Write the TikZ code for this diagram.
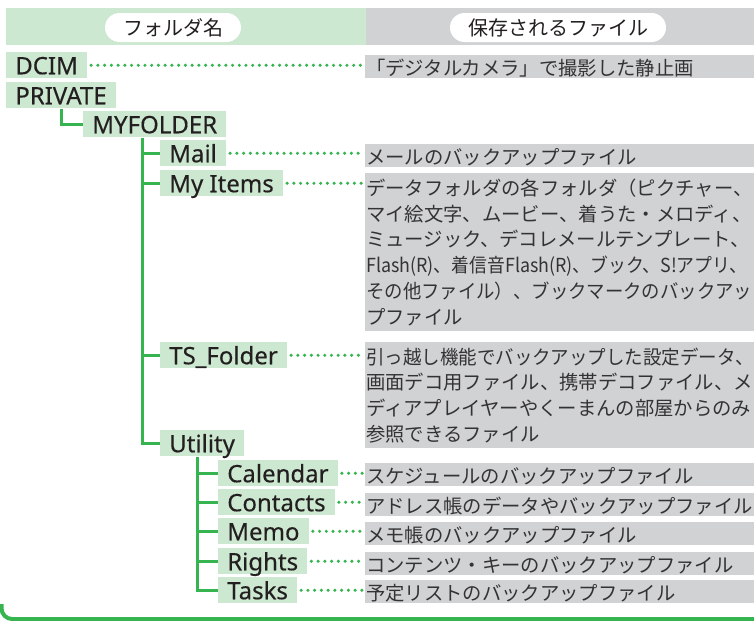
\documentclass[tikz,border=0pt]{standalone}
\usepackage{fontspec}
\setmainfont{Noto Sans}
\newfontfamily\labelfont{Noto Sans}[FakeBold=0.3]
\newfontfamily\jpfont{Noto Sans CJK JP}
\definecolor{dirGreen}{HTML}{CCE8D0}
\definecolor{dirGray}{HTML}{D1D2D4}
\definecolor{dirLine}{HTML}{36B450}
\definecolor{dirText}{HTML}{231F20}
\definecolor{dirNote}{HTML}{333333}
\usepackage{tikz}
\usetikzlibrary{decorations.markings}
\newcommand{\fitline}[2]{\resizebox{#1}{\height}{#2}}

\begin{document}
\begin{tikzpicture}[x=0.75pt, y=-0.75pt,
	folder/.style={fill=dirGreen, anchor=north west, inner xsep=6.75pt, inner ysep=0pt,
		text height=16.5pt, text depth=3pt, text=dirText, font=\labelfont\fontsize{18}{20}\selectfont},
	filebox/.style={fill=dirGray, anchor=north west, text width=290pt, align=left,
		inner xsep=0.75pt, inner ysep=0pt, text=dirNote,
		font=\jpfont\fontsize{14.5}{19.3}\selectfont},
	oneline/.style={text height=15pt, text depth=2.25pt},
	pill/.style={fill=white, rounded corners=10.9pt, minimum height=21.75pt, inner sep=0pt,
		text=dirText, font=\jpfont\fontsize{15}{15}\selectfont},
	tree/.style={dirLine, line width=2.25pt},
	dots/.style={decorate, decoration={markings,
		mark=between positions 0 and 1 step 5.05pt with {\fill[dirLine] (0,0) circle (1.3pt);}}}]
	
	\useasboundingbox (0,0) rectangle (754,621);
	
	% Cabecera
	\fill[dirGreen] (6,8) rectangle (366,45);
	\fill[dirGray] (366,8) rectangle (754,45);
	\node[pill, minimum width=102pt] (hfolder) at (173,27.5) {フォルダ名};
	\node[pill, minimum width=162pt] (hfile) at (558,27.5) {保存されるファイル};
	
	% Carpetas
	\node[folder] (dcim) at (6,52) {DCIM};
	\node[folder] (private) at (6,82) {PRIVATE};
	\node[folder] (myfolder) at (83,111) {MYFOLDER};
	\node[folder] (mail) at (160,140) {Mail};
	\node[folder] (myitems) at (160,170) {My Items\hspace{3pt}};
	\node[folder] (tsfolder) at (160,342) {TS\_Folder};
	\node[folder] (utility) at (160,430) {Utility};
	
	% Descripciones
	\node[filebox, oneline] (dcim-f) at (365,55) {「デジタルカメラ」で撮影した静止画};
	\node[filebox, oneline] (mail-f) at (365,144) {メールのバックアップファイル};
	\node[filebox, minimum height=118.5pt] (myitems-f) at (365,173)
		{データフォルダの各フォルダ（ピクチャー、\\マイ絵文字、ムービー、着うた・メロディ、\\ミュージック、デコレメールテンプレート、\\\fitline{285.75pt}{Flash(R)、着信音Flash(R)、ブック、S!アプリ、}\\\fitline{289.5pt}{その他ファイル）、ブックマークのバックアッ}\\プファイル};
	\node[filebox, minimum height=79.5pt] (tsfolder-f) at (365,342)
		{\fitline{290.5pt}{引っ越し機能でバックアップした設定データ、}\\画面デコ用ファイル、携帯デコファイル、メ\\ディアプレイヤーやくーまんの部屋からのみ\\参照できるファイル};
	
	% Ramas
	\draw[tree] ([shift={(55,0)}]private.south west) |- (myfolder.west);
	\coordinate (mtrunk) at ([shift={(59,0)}]myfolder.south west);
	\draw[tree] (mtrunk) |- (utility.west);
	\foreach \c in {mail,myitems,tsfolder}
		\draw[tree] (mtrunk |- \c.west) -- (\c.west);
	\coordinate (utrunk) at ([shift={(37,0)}]utility.south west);
	
	% Lineas punteadas
	\foreach \c in {dcim,mail,myitems,tsfolder}
		\path[dots] ([xshift=3pt]\c.east) -- ([xshift=-1.5pt]\c.east -| \c-f.west);
	
	% Subcarpetas de Utility
	\foreach \n/\lab/\y/\fy/\desc in {
		calendar/Calendar/460/463/スケジュールのバックアップファイル,
		contacts/Contacts/489/493/アドレス帳のデータやバックアップファイル,
		memo/Memo/518/522/メモ帳のバックアップファイル,
		rights/Rights/548/552/コンテンツ・キーのバックアップファイル,
		tasks/Tasks/577/580/予定リストのバックアップファイル}{
		\node[folder] (\n) at (218,\y) {\lab};
		\node[filebox, oneline] (\n-f) at (365,\fy) {\desc};
		\path[dots] ([xshift=3pt]\n.east) -- ([xshift=-1.5pt]\n.east -| \n-f.west);
	}
	\draw[tree] (utrunk) |- (tasks.west);
	\foreach \c in {calendar,contacts,memo,rights}
		\draw[tree] (utrunk |- \c.west) -- (\c.west);
	
	% Borde inferior
	\draw[dirLine, line width=3pt, rounded corners=8pt] (1.5,604) |- (754,619);
	
\end{tikzpicture}
\end{document}
